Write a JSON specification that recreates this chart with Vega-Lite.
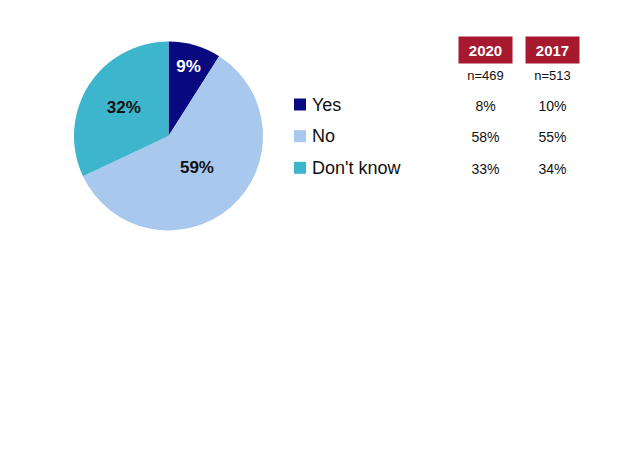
{
  "$schema": "https://vega.github.io/schema/vega-lite/v6.json",
  "padding": {"left": 74, "top": 36.5, "right": 37, "bottom": 242},
  "bounds": "flush",
  "spacing": 31,
  "background": "white",
  "config": {"view": {"stroke": null}, "font": "Liberation Sans"},
  "datasets": {
    "pie": [
      {"answer": "Yes", "pct": 9, "label": "9%"},
      {"answer": "No", "pct": 59, "label": "59%"},
      {"answer": "Don't know", "pct": 32, "label": "32%"}
    ],
    "table": [
      {"answer": "Yes", "year": "2020", "label": "8%"},
      {"answer": "Yes", "year": "2017", "label": "10%"},
      {"answer": "No", "year": "2020", "label": "58%"},
      {"answer": "No", "year": "2017", "label": "55%"},
      {"answer": "Don't know", "year": "2020", "label": "33%"},
      {"answer": "Don't know", "year": "2017", "label": "34%"}
    ],
    "header": [
      {"year": "2020", "row": "header", "text": "2020"},
      {"year": "2017", "row": "header", "text": "2017"},
      {"year": "2020", "row": "n", "text": "n=469"},
      {"year": "2017", "row": "n", "text": "n=513"}
    ]
  },
  "hconcat": [
    {
      "width": 189,
      "height": 189,
      "data": {"name": "pie"},
      "encoding": {
        "theta": {"field": "pct", "type": "quantitative", "stack": true},
        "order": {"field": "answer", "sort": "descending"},
        "color": {
          "field": "answer",
          "type": "nominal",
          "scale": {"domain": ["Yes", "No", "Don't know"], "range": ["#0a0a80", "#a9c8ee", "#3db5cc"]},
          "legend": null
        }
      },
      "layer": [
        {"mark": {"type": "arc", "outerRadius": 94.5}},
        {
          "mark": {"type": "text", "radius": 72, "fontSize": 17, "fontWeight": "bold", "baseline": "middle"},
          "encoding": {
            "text": {"field": "label"},
            "color": {"value": "white"},
            "opacity": {"condition": {"test": "datum.answer === 'Yes'", "value": 1}, "value": 0}
          }
        },
        {
          "mark": {"type": "text", "radius": 43, "fontSize": 17, "fontWeight": "bold", "baseline": "middle"},
          "encoding": {
            "text": {"field": "label"},
            "color": {"value": "#111111"},
            "opacity": {"condition": {"test": "datum.answer === 'No'", "value": 1}, "value": 0}
          }
        },
        {
          "mark": {"type": "text", "radius": 53, "fontSize": 17, "fontWeight": "bold", "baseline": "middle"},
          "encoding": {
            "text": {"field": "label"},
            "color": {"value": "#111111"},
            "opacity": {"condition": {"test": "datum.answer === \"Don't know\"", "value": 1}, "value": 0}
          }
        }
      ]
    },
    {
      "width": 12,
      "height": 189,
      "data": {"name": "pie"},
      "encoding": {
        "y": {
          "field": "answer",
          "type": "nominal",
          "scale": {"type": "point", "domain": ["Yes", "No", "Don't know"], "range": [69, 132.3], "padding": 0},
          "axis": null
        }
      },
      "layer": [
        {
          "mark": {"type": "square", "size": 144, "filled": true, "opacity": 1, "yOffset": -6},
          "encoding": {
            "color": {"field": "answer", "type": "nominal", "legend": null}
          }
        },
        {
          "mark": {"type": "text", "align": "left", "dx": 12, "fontSize": 18, "baseline": "alphabetic", "color": "#111111"},
          "encoding": {"text": {"field": "answer"}}
        }
      ]
    },
    {
      "width": 250,
      "height": 189,
      "encoding": {
        "x": {
          "field": "year",
          "type": "nominal",
          "scale": {"type": "point", "domain": ["2020", "2017"], "range": [148.5, 215.5], "padding": 0},
          "axis": null
        }
      },
      "layer": [
        {
          "data": {"name": "header"},
          "encoding": {
            "y": {
              "field": "row",
              "type": "nominal",
              "scale": {"type": "point", "domain": ["header", "n"], "range": [8.5, 34], "padding": 0},
              "axis": null
            }
          },
          "layer": [
            {
              "transform": [{"filter": "datum.row === 'header'"}],
              "mark": {"type": "rect", "width": 54, "height": 27, "color": "#a6192e"}
            },
            {
              "transform": [{"filter": "datum.row === 'header'"}],
              "mark": {"type": "text", "baseline": "middle", "fontSize": 15, "fontWeight": "bold", "color": "white", "dy": 1},
              "encoding": {"text": {"field": "text"}}
            },
            {
              "transform": [{"filter": "datum.row === 'n'"}],
              "mark": {"type": "text", "baseline": "middle", "fontSize": 13, "color": "#111111"},
              "encoding": {"text": {"field": "text"}}
            }
          ]
        },
        {
          "data": {"name": "table"},
          "mark": {"type": "text", "baseline": "alphabetic", "fontSize": 14, "color": "#111111"},
          "encoding": {
            "y": {
              "field": "answer",
              "type": "nominal",
              "scale": {"type": "point", "domain": ["Yes", "No", "Don't know"], "range": [69, 132.3], "padding": 0},
              "axis": null
            },
            "text": {"field": "label"}
          }
        }
      ],
      "resolve": {"scale": {"y": "independent"}}
    }
  ]
}
